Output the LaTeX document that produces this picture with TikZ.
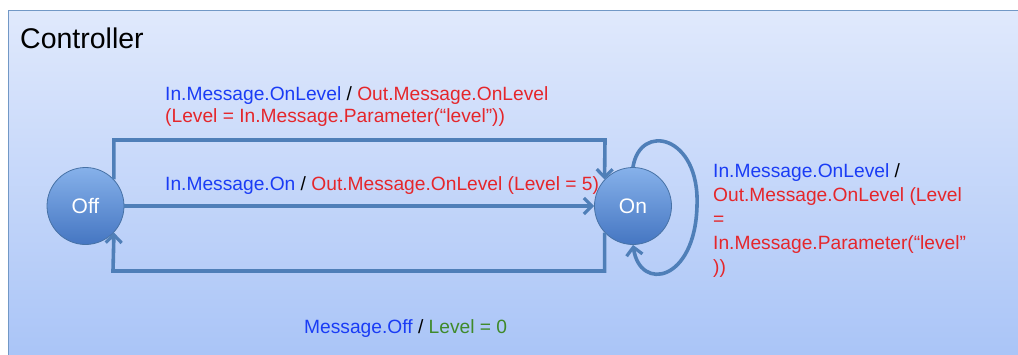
\documentclass[tikz,border=0pt]{standalone}
\usepackage{fontspec}
\setmainfont{Liberation Sans}
\usetikzlibrary{arrows.meta}
\definecolor{edgec}{HTML}{4F7FB8}
\definecolor{bluet}{HTML}{1A3CF5}
\definecolor{redt}{HTML}{E5262B}
\definecolor{greent}{HTML}{3F8A2A}
\definecolor{bgtop}{HTML}{E0E9FC}
\definecolor{bgbot}{HTML}{A9C4F7}
\definecolor{sttop}{HTML}{86B1EA}
\definecolor{stbot}{HTML}{4576C2}
\begin{document}
\begin{tikzpicture}[x=1pt,y=-1pt,
  state/.style={circle,minimum size=77pt,inner sep=0pt,draw=edgec!90!black,line width=0.8pt,
    top color=sttop,bottom color=stbot,text=white,font=\fontsize{21}{24}\selectfont},
  conn/.style={draw=edgec,line width=3.6pt,-{Straight Barb[length=8pt,width=16pt,line width=3.2pt]}},
  lbl/.style={anchor=west,inner sep=0pt,font=\fontsize{19.2}{24}\selectfont,align=left}]
\useasboundingbox (0,0) rectangle (1018,354);
\fill[white] (0,0) rectangle (1018,354);
\shade[top color=bgtop,bottom color=bgbot] (8,10) rectangle (1030,360);
\draw[edgec!80,line width=1pt] (8,360) -- (8,10) -- (1030,10);
\node[anchor=west,inner sep=0pt,font=\fontsize{28.5}{32}\selectfont] (title) at (20,38) {Controller};
\node[state] (off) at (85.5,206) {Off};
\node[state] (on) at (633,206) {On};
\coordinate (a1) at (113,140);
\coordinate (a2) at (605,140);
\coordinate (b1) at (605,271);
\coordinate (b2) at (113,271);
\draw[conn] (off.43) -- (off.43 |- a1) -- (a2) -- (on.137);
\draw[conn] (off.east) -- (on.west);
\draw[conn] (on.223) -- (on.223 |- b1) -- (b2) -- (off.317);
\draw[conn] (on.north) .. controls (640,122) and (700,135) .. (697,206) .. controls (695,282) and (640,292) .. (on.south);
\node[lbl] (l1) at (165,107) {\textcolor{bluet}{In.Message.OnLevel} / \textcolor{redt}{Out.Message.OnLevel}\\[-2pt]\textcolor{redt}{(Level = In.Message.Parameter(“level”))}};
\node[lbl] (l2) at (165,186) {\textcolor{bluet}{In.Message.On} / \textcolor{redt}{Out.Message.OnLevel (Level = 5)}};
\node[lbl] (l3) at (713,221) {\textcolor{bluet}{In.Message.OnLevel} /\\\textcolor{redt}{Out.Message.OnLevel (Level}\\\textcolor{redt}{=}\\\textcolor{redt}{In.Message.Parameter(“level”}\\\textcolor{redt}{))}};
\node[lbl] (l4) at (304,329) {\textcolor{bluet}{Message.Off} / \textcolor{greent}{Level = 0}};
\end{tikzpicture}
\end{document}
